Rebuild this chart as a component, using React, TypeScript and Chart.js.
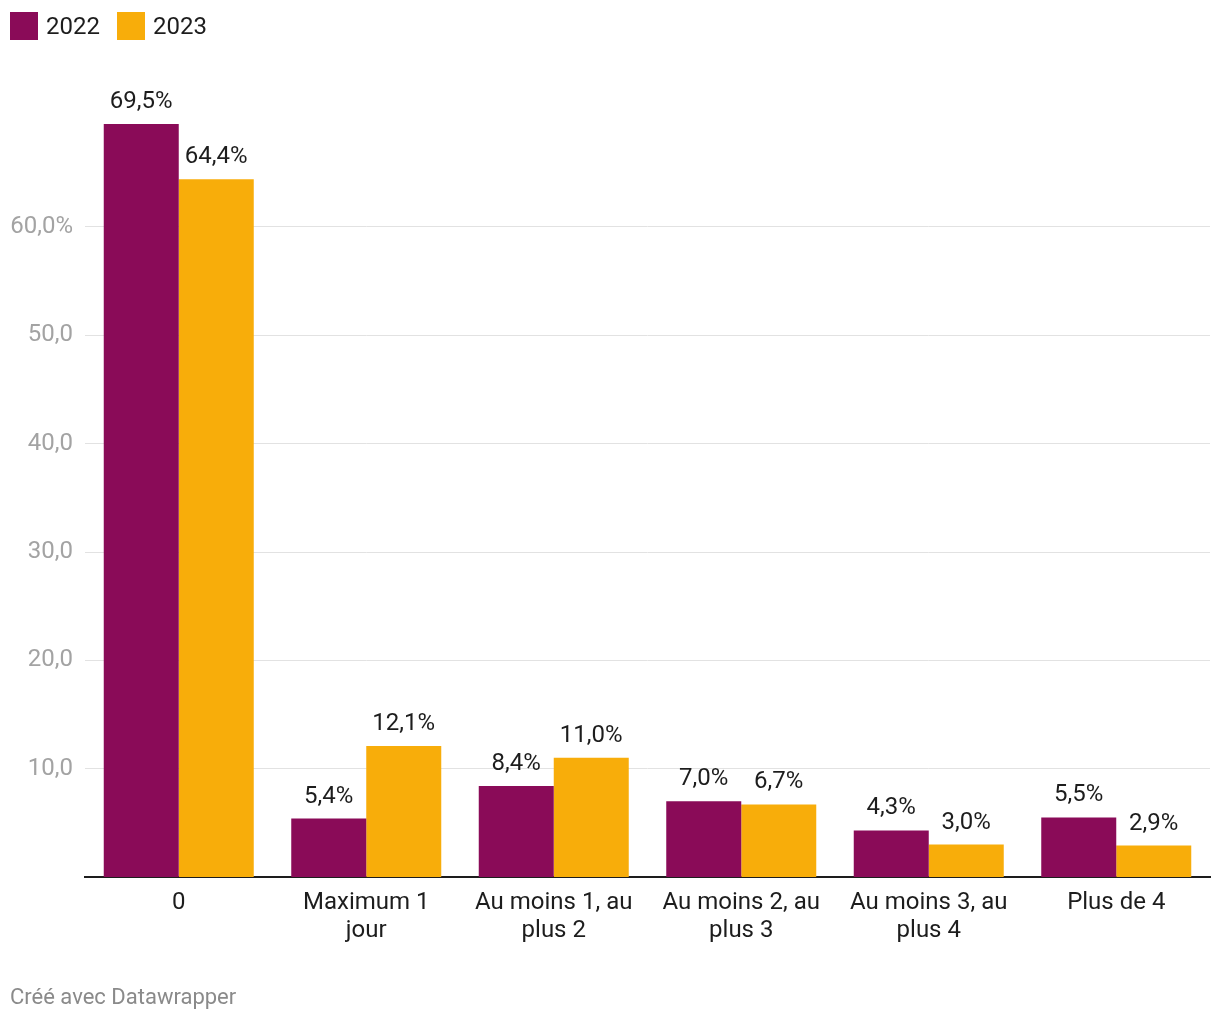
import React, { useEffect, useRef } from "react";
import { Chart, registerables } from "chart.js";

Chart.register(...registerables);

const categories: string[][] = [
  ["0"],
  ["Maximum 1", "jour"],
  ["Au moins 1, au", "plus 2"],
  ["Au moins 2, au", "plus 3"],
  ["Au moins 3, au", "plus 4"],
  ["Plus de 4"],
];
const values2022 = [69.5, 5.4, 8.4, 7.0, 4.3, 5.5];
const values2023 = [64.4, 12.1, 11.0, 6.7, 3.0, 2.9];
const seriesNames = ["2022", "2023"];
const tickValues = [10, 20, 30, 40, 50, 60];

const COLORS = ["#8a0b58", "#f8ad0a"];
const FONT = "Roboto, 'Noto Sans', sans-serif";

const fmt = (v: number) => v.toFixed(1).replace(".", ",");

const valueLabels = {
  id: "valueLabels",
  afterDatasetsDraw(chart: any) {
    const ctx = chart.ctx;
    ctx.save();
    ctx.font = `24px ${FONT}`;
    ctx.fillStyle = "#1d1d1d";
    ctx.textAlign = "center";
    ctx.textBaseline = "alphabetic";
    chart.data.datasets.forEach((ds: any, i: number) => {
      const meta = chart.getDatasetMeta(i);
      meta.data.forEach((bar: any, j: number) => {
        ctx.fillText(fmt(ds.data[j]) + "%", bar.x, bar.y - 16);
      });
    });
    ctx.restore();
  },
};

export default function App() {
  const ref = useRef<HTMLCanvasElement>(null);
  useEffect(() => {
    if (!ref.current) return;
    const chart = new Chart(ref.current, {
      type: "bar",
      data: {
        labels: categories,
        datasets: [
          { label: seriesNames[0], data: values2022, backgroundColor: COLORS[0], categoryPercentage: 0.8, barPercentage: 1.0 },
          { label: seriesNames[1], data: values2023, backgroundColor: COLORS[1], categoryPercentage: 0.8, barPercentage: 1.0 },
        ],
      },
      options: {
        animation: false,
        responsive: false,
        maintainAspectRatio: false,
        layout: { padding: { top: 64.5, right: 10, left: 0, bottom: 0 } },
        plugins: { legend: { display: false }, tooltip: { enabled: false } },
        scales: {
          x: {
            grid: { display: false, drawTicks: false },
            border: { display: true, color: "#1d1d1d", width: 2 },
            ticks: {
              color: "#1d1d1d",
              font: { family: FONT, size: 24, lineHeight: 1.17 },
              padding: 12,
              maxRotation: 0,
              autoSkip: false,
            },
            afterFit(scale: any) {
              scale.height = 1020 - 877;
            },
          },
          y: {
            min: 0,
            max: 75,
            grid: { color: "#e2e2e2", lineWidth: 1, drawTicks: false },
            border: { display: false },
            afterBuildTicks(scale: any) {
              scale.ticks = tickValues.map((v) => ({ value: v }));
            },
            ticks: {
              color: "#a3a3a3",
              font: { family: FONT, size: 24 },
              padding: 12,
              callback: (v: any) => (v === 60 ? fmt(v) + "%" : fmt(v)),
            },
            afterFit(scale: any) {
              scale.width = 85;
            },
          },
        },
      },
      plugins: [valueLabels],
    });
    return () => chart.destroy();
  }, []);

  return (
    <div style={{ position: "absolute", left: 0, top: 0, width: 1220, height: 1020, background: "#fff", fontFamily: FONT }}>
      <canvas ref={ref} width={1220} height={1020} style={{ position: "absolute", left: 0, top: 0, width: 1220, height: 1020 }} />
      <div style={{ position: "absolute", left: 10, top: 12, display: "flex", alignItems: "center", fontSize: 24, color: "#1d1d1d" }}>
        {seriesNames.map((name, i) => (
          <div key={name} style={{ display: "flex", alignItems: "center", marginRight: 17 }}>
            <span style={{ display: "inline-block", width: 28, height: 28, background: COLORS[i], marginRight: 8 }} />
            <span style={{ lineHeight: "28px" }}>{name}</span>
          </div>
        ))}
      </div>
      <div style={{ position: "absolute", left: 10, top: 984, fontSize: 22, lineHeight: "26px", color: "#8a8a8a" }}>Créé avec Datawrapper</div>
    </div>
  );
}
